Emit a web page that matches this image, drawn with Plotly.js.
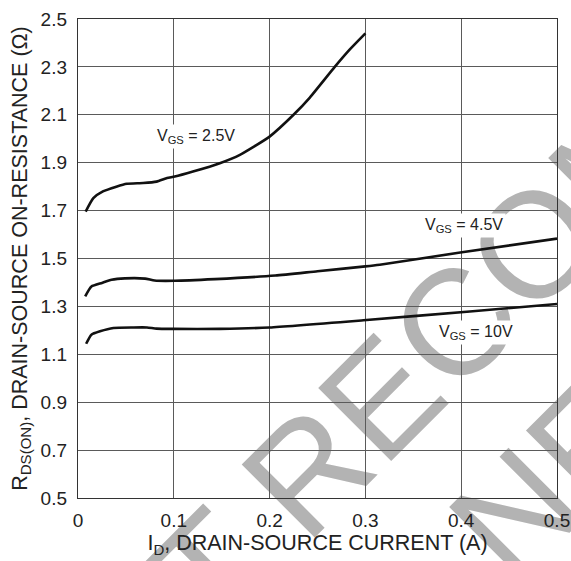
<!DOCTYPE html>
<html>
<head>
<meta charset="utf-8">
<script src="https://cdn.plot.ly/plotly-3.0.1.min.js"></script>
<style>html,body{margin:0;padding:0;background:#fff;}#chart{width:571px;height:561px;}</style>
</head>
<body>
<div id="chart"></div>
<script>
// I_D (A) and R_DS(ON) (ohm)
var idVgs25 = [0.008, 0.016, 0.026, 0.040, 0.051, 0.068, 0.082, 0.093, 0.101, 0.120, 0.148, 0.169, 0.200, 0.225, 0.242, 0.268, 0.284, 0.300];
var rVgs25  = [1.696, 1.752, 1.780, 1.800, 1.812, 1.815, 1.821, 1.836, 1.842, 1.863, 1.898, 1.933, 2.009, 2.100, 2.172, 2.300, 2.374, 2.440];

var idVgs45 = [0.0075, 0.014, 0.025, 0.035, 0.049, 0.070, 0.080, 0.101, 0.143, 0.206, 0.250, 0.300, 0.315, 0.399, 0.500];
var rVgs45  = [1.342, 1.383, 1.398, 1.411, 1.417, 1.416, 1.408, 1.407, 1.414, 1.429, 1.447, 1.467, 1.474, 1.525, 1.583];

var idVgs10 = [0.0085, 0.014, 0.023, 0.037, 0.058, 0.072, 0.082, 0.100, 0.148, 0.200, 0.298, 0.409, 0.500];
var rVgs10  = [1.144, 1.182, 1.196, 1.210, 1.212, 1.212, 1.207, 1.206, 1.206, 1.212, 1.242, 1.279, 1.310];

var xTickVals = [0, 0.1, 0.2, 0.3, 0.4, 0.5];
var xTickText = ["0", "0.1", "0.2", "0.3", "0.4", "0.5"];
var yTickVals = [0.5, 0.7, 0.9, 1.1, 1.3, 1.5, 1.7, 1.9, 2.1, 2.3, 2.5];
var yTickText = ["0.5", "0.7", "0.9", "1.1", "1.3", "1.5", "1.7", "1.9", "2.1", "2.3", "2.5"];

var seriesLabels = ["V<sub>GS</sub> = 2.5V", "V<sub>GS</sub> = 4.5V", "V<sub>GS</sub> = 10V"];
var watermarkLines = ["NOT RECOMMENDED", "FOR NEW DESIGN"];

var FONT = "Liberation Sans, Arial, Helvetica, sans-serif";
var lineStyle = {color: "#111", width: 2.6, shape: "spline", smoothing: 0.5};

var traces = [
  {x: idVgs25, y: rVgs25, mode: "lines", line: lineStyle, name: "2.5V", hoverinfo: "skip"},
  {x: idVgs45, y: rVgs45, mode: "lines", line: lineStyle, name: "4.5V", hoverinfo: "skip"},
  {x: idVgs10, y: rVgs10, mode: "lines", line: lineStyle, name: "10V", hoverinfo: "skip"}
];

function wm(text, cx, cy) {
  var d = 0.2;
  return {
    type: "line", xref: "paper", yref: "paper", layer: "below",
    x0: cx - d, y0: cy - d, x1: cx + d, y1: cy + d,
    line: {color: "rgba(0,0,0,0)", width: 1},
    label: {
      text: text, textangle: -45, textposition: "middle",
      xanchor: "center", yanchor: "middle",
      font: {family: FONT, size: 150, color: "#b3b3b3"}
    }
  };
}

var labelFont = {family: FONT, size: 16, color: "#222"};

var layout = {
  width: 571, height: 561,
  margin: {l: 78, r: 14, t: 19, b: 63},
  paper_bgcolor: "#fff", plot_bgcolor: "rgba(0,0,0,0)",
  showlegend: false,
  font: {family: FONT, color: "#222"},
  xaxis: {
    range: [0, 0.5], tickvals: xTickVals, ticktext: xTickText,
    ticks: "", ticklabelstandoff: 5,
    tickfont: {family: FONT, size: 19, color: "#222"},
    showgrid: true, gridcolor: "#5a5a5a", gridwidth: 1,
    zeroline: false, showline: true, mirror: true, linecolor: "#333", linewidth: 1.2,
    title: {text: "I<sub>D</sub>, DRAIN-SOURCE CURRENT (A)", font: {family: FONT, size: 21.5, color: "#222"}, standoff: 2},
    fixedrange: true
  },
  yaxis: {
    range: [0.5, 2.5], tickvals: yTickVals, ticktext: yTickText,
    ticks: "", ticklabelstandoff: 6,
    tickfont: {family: FONT, size: 19, color: "#222"},
    showgrid: true, gridcolor: "#5a5a5a", gridwidth: 1,
    zeroline: false, showline: true, mirror: true, linecolor: "#333", linewidth: 1.2,
    title: {text: "R<sub>DS(ON)</sub>, DRAIN-SOURCE ON-RESISTANCE (\u03A9)", font: {family: FONT, size: 21.5, color: "#222"}, standoff: 7},
    fixedrange: true
  },
  shapes: [
    wm(watermarkLines[0], 1.008, 0.626),
    wm(watermarkLines[1], 1.261, 0.357)
  ],
  annotations: [
    {x: 0.123, y: 2.008, text: seriesLabels[0], showarrow: false, font: labelFont, bgcolor: "#fff", borderpad: 2},
    {x: 0.403, y: 1.637, text: seriesLabels[1], showarrow: false, font: labelFont, bgcolor: "#fff", borderpad: 2},
    {x: 0.415, y: 1.190, text: seriesLabels[2], showarrow: false, font: labelFont, bgcolor: "#fff", borderpad: 2}
  ]
};

Plotly.newPlot("chart", traces, layout, {displayModeBar: false, staticPlot: true});
</script>
</body>
</html>
